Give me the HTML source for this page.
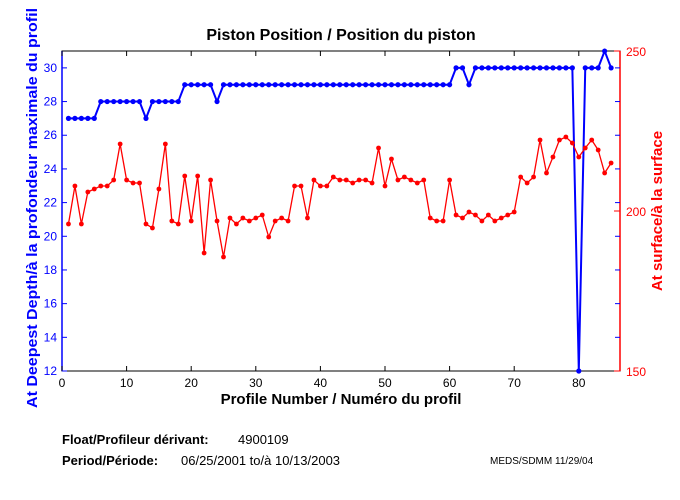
<!DOCTYPE html>
<html><head><meta charset="utf-8"><style>
body{margin:0;background:#fff;}
svg{display:block;font-family:"Liberation Sans",sans-serif;}
</style></head><body>
<svg id="s" width="680" height="500" xmlns="http://www.w3.org/2000/svg">
<rect width="680" height="500" fill="#fff"/>
<text x="341" y="40" font-size="16" font-weight="bold" text-anchor="middle">Piston Position / Position du piston</text>
<rect x="62" y="51" width="558" height="320" fill="none" stroke="#000" stroke-width="1"/>
<line x1="62" y1="51" x2="62" y2="371" stroke="#00f" stroke-width="1.5"/>
<line x1="620" y1="51" x2="620" y2="371" stroke="#f00" stroke-width="1.5"/>
<g id="ax"></g>
<text x="341" y="404" font-size="15" font-weight="bold" text-anchor="middle">Profile Number / Numéro du profil</text>
<text transform="translate(37,208) rotate(-90)" font-size="15" font-weight="bold" fill="#00f" text-anchor="middle" textLength="400" lengthAdjust="spacingAndGlyphs">At Deepest Depth/à la profondeur maximale du profil</text>
<text transform="translate(662,211) rotate(-90)" font-size="15" font-weight="bold" fill="#f00" text-anchor="middle">At surface/à la surface</text>
<text x="62" y="444" font-size="13" font-weight="bold">Float/Profileur dérivant:</text>
<text x="238" y="444" font-size="13">4900109</text>
<text x="62" y="465" font-size="13" font-weight="bold">Period/Période:</text>
<text x="181" y="465" font-size="13">06/25/2001  to/à  10/13/2003</text>
<text x="490" y="464" font-size="10">MEDS/SDMM  11/29/04</text>
</svg>
<script>
var ns="http://www.w3.org/2000/svg",ax=document.getElementById("ax");
function el(t,a,txt){var e=document.createElementNS(ns,t);for(var k in a)e.setAttribute(k,a[k]);if(txt!=null)e.textContent=txt;ax.appendChild(e);return e;}
function X(i){return 62+6.46*i;}
for(var i=0;i<=80;i+=10){var x=X(i);el("line",{x1:x,y1:371,x2:x,y2:366,stroke:"#000"});el("line",{x1:x,y1:51,x2:x,y2:56,stroke:"#000"});el("text",{x:x,y:387,"font-size":12,"text-anchor":"middle"},i);}
for(var v=12;v<=30;v+=2){var y=371-(v-12)*16.84;el("line",{x1:62,y1:y,x2:67,y2:y,stroke:"#00f"});el("line",{x1:620,y1:y,x2:615,y2:y,stroke:"#00f"});el("text",{x:57,y:y+4,"font-size":12,fill:"#00f","text-anchor":"end"},v);}
[150,200,250].forEach(function(v){var y=371-(v-150)*3.2;el("line",{x1:620,y1:y,x2:614,y2:y,stroke:"#f00"});el("text",{x:626,y:y+5,"font-size":12,fill:"#f00"},v);});
var b=[];for(i=1;i<=85;i++){var v;if(i<=5)v=27;else if(i<=12)v=28;else if(i==13)v=27;else if(i<=18)v=28;else if(i<=23)v=29;else if(i==24)v=28;else if(i<=60)v=29;else if(i<=62)v=30;else if(i==63)v=29;else if(i<=79)v=30;else if(i==80)v=12;else if(i<=83)v=30;else if(i==84)v=31;else v=30;b.push([X(i),371-(v-12)*16.84]);}
var r=[224,186,224,192,189,186,186,180,144,180,183,183,224,228,189,144,221,224,176,221,176,253,180,221,257,218,224,218,221,218,215,237,221,218,221,186,186,218,180,186,186,177,180,180,183,180,180,183,148,186,159,180,177,180,183,180,218,221,221,180,215,218,212,215,221,215,221,218,215,212,177,183,177,140,173,157,140,137,143,157,148,140,150,173,163];
function series(p,c,w,ms){el("polyline",{points:p.map(function(q){return q.join(",")}).join(" "),fill:"none",stroke:c,"stroke-width":w});p.forEach(function(q){el("circle",{cx:q[0],cy:q[1],r:ms,fill:c});});}
series(b,"#00f",2,2.6);
series(r.map(function(y,k){return [X(k+1),y];}),"#f00",1.3,2.4);
</script>
</body></html>
